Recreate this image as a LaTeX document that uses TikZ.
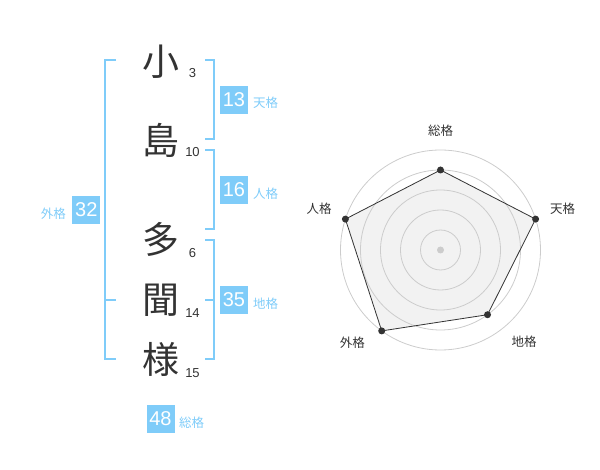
\documentclass[tikz,border=0pt]{standalone}
\usepackage{fontspec}
\setmainfont{Liberation Sans}
\newfontfamily\cjk{Noto Sans CJK JP}
\definecolor{kblue}{HTML}{7FCCF9}
\definecolor{kdark}{HTML}{333333}
\definecolor{kgrid}{HTML}{CCCCCC}
\definecolor{kfill}{HTML}{F2F2F2}
\begin{document}
\begin{tikzpicture}[x=1pt,y=-1pt,
  bigchar/.style={font=\cjk\fontsize{37}{37}\selectfont, text=kdark, inner sep=0pt},
  strokenum/.style={font=\fontsize{13}{13}\selectfont, text=kdark, inner sep=0pt},
  numbox/.style={fill=kblue, text=white, minimum width=28pt, minimum height=28pt, inner sep=0pt, font=\fontsize{20}{20}\selectfont},
  boxlabel/.style={font=\cjk\fontsize{12.5}{12.5}\selectfont, text=kblue, inner sep=0pt},
  bracket/.style={draw=kblue, line width=2pt},
  radarlabel/.style={font=\cjk\fontsize{12.5}{12.5}\selectfont, text=kdark, inner sep=0pt},
  gridline/.style={draw=kgrid, line width=0.8pt},
  marker/.style={circle, fill=kdark, inner sep=0pt, minimum size=7pt}
]
\useasboundingbox (0,0) rectangle (600,470);

% characters
\node[bigchar] (c1) at (160.5,62) {小};
\node[bigchar] (c2) at (160.5,140) {島};
\node[bigchar] (c3) at (160.5,239) {多};
\node[bigchar] (c4) at (160.5,300) {聞};
\node[bigchar] (c5) at (160.5,359) {様};

\node[strokenum] (n1) at (192.5,73.3) {3};
\node[strokenum] (n2) at (192.5,152.3) {10};
\node[strokenum] (n3) at (192.5,253.3) {6};
\node[strokenum] (n4) at (192.5,312.7) {14};
\node[strokenum] (n5) at (192.5,373.3) {15};

% left bracket (外格)
\draw[bracket] (116,60) -- (105,60) -- (105,359) -- (116,359);
\draw[bracket] (105,300) -- (116,300);
% right brackets
\draw[bracket] (205,60) -- (214,60) -- (214,139) -- (205,139);
\draw[bracket] (205,150) -- (214,150) -- (214,229) -- (205,229);
\draw[bracket] (205,240) -- (214,240) -- (214,359) -- (205,359);
\draw[bracket] (205,300) -- (214,300);

% boxes
\node[numbox] (b13) at (234,100) {13};
\node[boxlabel] (l13) at (265.7,103) {天格};
\node[numbox] (b16) at (234,190) {16};
\node[boxlabel] (l16) at (265.7,193.5) {人格};
\node[numbox] (b32) at (86.3,210) {32};
\node[boxlabel] (l32) at (53.3,213.3) {外格};
\node[numbox] (b35) at (234,300) {35};
\node[boxlabel] (l35) at (265.7,303.5) {地格};
\node[numbox] (b48) at (160.5,419) {48};
\node[boxlabel] (l48) at (191.7,422.3) {総格};

% radar chart
\begin{scope}[shift={(440.5,250)}]
  \coordinate (p1) at (-90:80);
  \coordinate (p2) at (-18:100);
  \coordinate (p3) at (54:80);
  \coordinate (p4) at (126:100);
  \coordinate (p5) at (-162:100);
  \fill[kfill] (p1) -- (p2) -- (p3) -- (p4) -- (p5) -- cycle;
  \foreach \r in {20,40,60,80,100} \draw[gridline] (0,0) circle[radius=\r];
  \draw[kdark, line width=0.8pt] (p1) -- (p2) -- (p3) -- (p4) -- (p5) -- cycle;
  \fill[kgrid] (0,0) circle[radius=3.5];
  \foreach \i in {1,...,5} \node[marker] (m\i) at (p\i) {};
\end{scope}
\node[radarlabel] (r1) at (440.7,130.7) {総格};
\node[radarlabel] (r2) at (562.7,209) {天格};
\node[radarlabel] (r3) at (524,341.7) {地格};
\node[radarlabel] (r4) at (352.3,342.3) {外格};
\node[radarlabel] (r5) at (319,209) {人格};
\end{tikzpicture}
\end{document}
